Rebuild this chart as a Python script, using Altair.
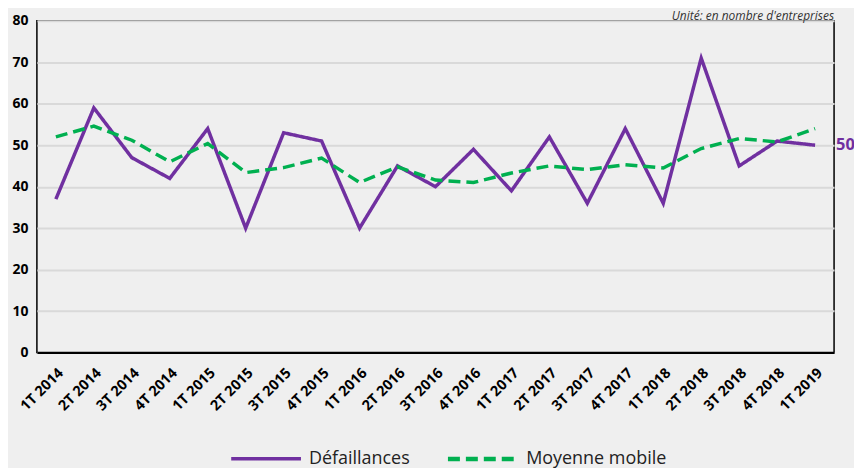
import altair as alt
import pandas as pd

quarters = ["1T 2014", "2T 2014", "3T 2014", "4T 2014",
            "1T 2015", "2T 2015", "3T 2015", "4T 2015",
            "1T 2016", "2T 2016", "3T 2016", "4T 2016",
            "1T 2017", "2T 2017", "3T 2017", "4T 2017",
            "1T 2018", "2T 2018", "3T 2018", "4T 2018",
            "1T 2019"]
defaillances = [37, 59, 47, 42, 54, 30, 53, 51, 30, 45, 40, 49, 39, 52, 36, 54, 36, 71, 45, 51, 50]
moyenne = [52.0, 54.6, 51.2, 46.0, 50.4, 43.4, 44.6, 46.9, 41.0, 44.8, 41.6, 41.0,
           43.3, 45.0, 44.1, 45.3, 44.5, 49.2, 51.6, 50.8, 54.0]
series = ["Défaillances", "Moyenne mobile"]
colors = ["#7030A0", "#00B050"]
y_ticks = [0, 10, 20, 30, 40, 50, 60, 70, 80]
unit_note = "Unité: en nombre d'entreprises"

FONT = "Open Sans"

rows = []
for i, q in enumerate(quarters):
    rows.append({"q": q, "serie": series[0], "v": defaillances[i], "order": i})
    rows.append({"q": q, "serie": series[1], "v": moyenne[i], "order": i})
df = pd.DataFrame(rows)

x_enc = alt.X("q:N", sort=quarters, title=None,
              scale=alt.Scale(paddingInner=1, paddingOuter=0.5),
              axis=alt.Axis(labelAngle=-45, labelFont=FONT, labelFontWeight="bold",
                            labelFontSize=14.5, labelColor="#000000", ticks=False,
                            domain=True, domainColor="#000000", domainWidth=2,
                            labelPadding=13, grid=False))
y_enc = alt.Y("v:Q", title=None,
              scale=alt.Scale(domain=[0, 80], nice=False, zero=True),
              axis=alt.Axis(values=y_ticks, labelFont=FONT, labelFontWeight="bold",
                            labelFontSize=14, labelColor="#000000", ticks=False,
                            domain=False, grid=True, gridColor="#d9d9d9",
                            gridWidth=2, labelPadding=9))

lines = alt.Chart(df).mark_line(strokeWidth=3.5).encode(
    x=x_enc,
    y=y_enc,
    color=alt.Color("serie:N", scale=alt.Scale(domain=series, range=colors),
                    legend=alt.Legend(title=None)),
    strokeDash=alt.StrokeDash("serie:N",
                              scale=alt.Scale(domain=series, range=[[1, 0], [12, 6]]),
                              legend=alt.Legend(title=None)),
    strokeWidth=alt.StrokeWidth("serie:N",
                                scale=alt.Scale(domain=series, range=[3.5, 4.5]),
                                legend=None),
    order="order:Q",
)

last = pd.DataFrame({"q": [quarters[-1]], "v": [defaillances[-1]]})
end_label = alt.Chart(last).mark_text(
    align="left", baseline="middle", dx=21, font=FONT, fontWeight="bold",
    fontSize=16.5, color="#7030A0"
).encode(x=alt.X("q:N", sort=quarters), y=alt.Y("v:Q"), text=alt.Text("v:Q"))

note = alt.Chart(pd.DataFrame({"t": [unit_note]})).mark_text(
    align="right", baseline="alphabetic", font=FONT, fontStyle="italic",
    fontSize=12, color="#333333"
).encode(x=alt.value(800), y=alt.value(-1), text="t:N")

chart = alt.layer(lines, end_label, note).properties(
    width=800, height=333,
    autosize=alt.AutoSizeParams(type="none"),
    padding={"left": 29, "top": 12, "right": 20, "bottom": 115},
    background="#efefef",
).configure_view(
    stroke="#000000", strokeWidth=1.5, fill="#efefef"
).configure_legend(
    orient="none", direction="horizontal", legendX=193, legendY=402,
    symbolType="stroke", symbolSize=4900, symbolStrokeWidth=3.5,
    labelFont=FONT, labelFontSize=18, labelColor="#222222",
    labelOffset=6, columnPadding=28, padding=0,
)

chart.save("out.html", embed_options={"renderer": "svg", "actions": False})
